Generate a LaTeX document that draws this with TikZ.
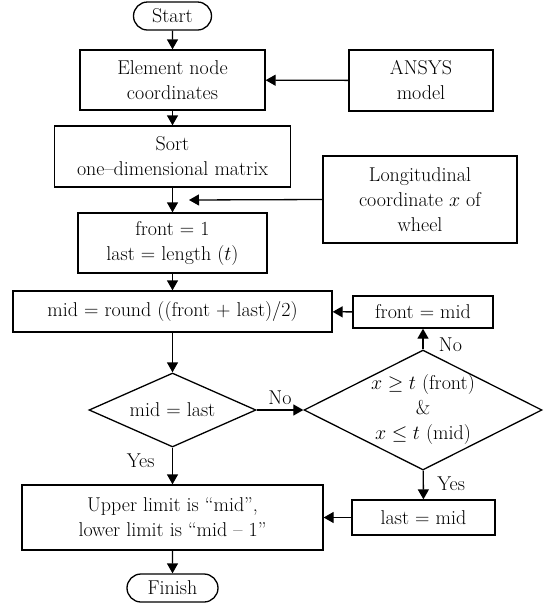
\RequirePackage{fix-cm}
\documentclass[tikz,border=0pt]{standalone}
\usepackage{tikz}
\usetikzlibrary{shapes,arrows.meta,positioning,calc}

\begin{document}
\begin{tikzpicture}[x=1pt, y=-1pt, font=\fontsize{20}{25}\selectfont,
    line width=1.3pt,
    box/.style={draw, rectangle, align=center, inner sep=0pt},
    term/.style={draw, rounded rectangle, inner sep=0pt},
    decide/.style={draw, diamond, align=center, inner sep=0pt},
    flow/.style={-{Triangle[length=10pt, width=11pt]}}]
    \useasboundingbox (0,0) rectangle (544,606);

    % main column
    \node[term, minimum width=78, minimum height=28] (start) at (172.5,16) {Start};
    \node[box, minimum width=185, minimum height=60] (elem) at (172.5,80) {Element node\\coordinates};
    \node[box, minimum width=236, minimum height=61] (sort) at (172.5,156.5) {Sort\\one--dimensional matrix};
    \node[box, minimum width=189, minimum height=60] (init) at (172.5,243) {front = 1\\last = length ($t$)};
    \node[box, minimum width=319, minimum height=41] (mid) at (172.5,311.5) {mid = round ((front + last)/2)};
    \node[decide, aspect=2.26, minimum width=167, minimum height=74] (chk1) at (172.5,410) {mid = last};
    \node[box, minimum width=301, minimum height=65] (limit) at (172.5,517.5) {Upper limit is ``mid'',\\lower limit is ``mid -- 1''};
    \node[term, minimum width=91, minimum height=28] (finish) at (172.5,588) {Finish};

    % inputs and search branch
    \node[box, minimum width=144, minimum height=61] (ansys) at (421,80.5) {ANSYS\\model};
    \node[box, minimum width=194, minimum height=87] (longi) at (420,199.5) {Longitudinal\\coordinate $x$ of\\wheel};
    \node[box, minimum width=140, minimum height=32] (fmid) at (423,312) {front = mid};
    \node[decide, minimum width=238, minimum height=120,
        label={[align=center]center:{$x \geq t$ (front)\\\&\\$x \leq t$ (mid)}}] (chk2) at (423,410) {};
    \node[box, minimum width=143, minimum height=35] (lmid) at (423.5,517.5) {last = mid};

    \coordinate (join) at (189,200);

    \draw[flow] (start) -- (elem);
    \draw[flow] (elem) -- (sort);
    \draw[flow] (sort) -- (init);
    \draw[flow] (init) -- (mid);
    \draw[flow] (mid) -- (chk1);
    \draw[flow] (chk1) -- (limit) node[pos=0.35, left=14pt] {Yes};
    \draw[flow] (limit) -- (finish);

    \draw[flow] (ansys) -- (elem);
    \draw[flow] (longi.west) -- (join);
    \draw[flow] (chk1) -- (chk2) node[midway, above=1pt] {No};
    \draw[flow] (chk2) -- (fmid) node[pos=0.2, right=12pt] {No};
    \draw[flow] (fmid) -- (mid);
    \draw[flow] (chk2) -- (lmid) node[pos=0.45, right=10pt] {Yes};
    \draw[flow] (lmid) -- (limit);
\end{tikzpicture}
\end{document}
